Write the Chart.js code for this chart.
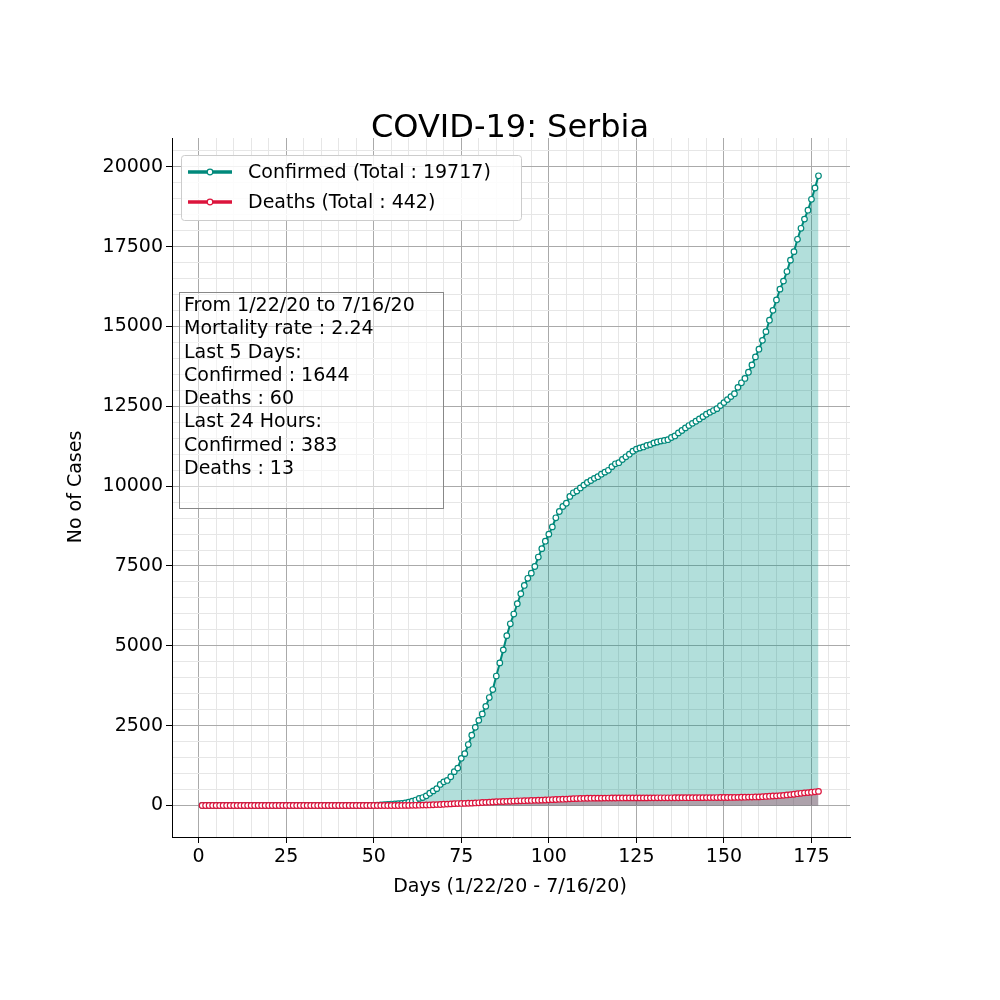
<!DOCTYPE html>
<html><head><meta charset="utf-8">
<script src="https://cdn.jsdelivr.net/npm/chart.js@4"></script>
<style>body{margin:0;background:#fff}#wrap{width:1000px;height:1000px}</style>
</head><body><div id="wrap"><canvas id="c" width="1000" height="1000"></canvas></div>
<script>
// 数据：第 1..177 天的累计确诊与死亡
const days = Array.from({ length: 177 }, (_, i) => i + 1);
const confirmed = [
  0,0,0,0,0,0,0,0,0,0, 0,0,0,0,0,0,0,0,0,0, 0,0,0,0,0,0,0,0,0,0,
  0,0,0,0,0,0,0,0,0,0, 0,0,0,0,0,0,
  1,1,1,5,12,19,24,35,46,48,55,65,83,103,135,171,222,249,303,384,457,528,659,741,785,900,
  1060,1171,1476,1624,1908,2200,2447,2666,2867,3105,3380,3630,4054,4465,4873,5318,5690,5994,
  6318,6630,6890,7114,7276,7483,7779,8042,8275,8497,8724,9009,9205,9362,9464,9677,9791,9848,
  9943,10032,10114,10176,10243,10295,10374,10438,10496,10610,10699,10733,10833,10919,11000,
  11092,11159,11193,11227,11275,11300,11354,11381,11412,11430,11454,11523,11571,11667,11741,
  11823,11896,11965,12031,12102,12175,12251,12310,12367,12426,12522,12616,12709,12803,12894,
  13092,13235,13372,13565,13792,14046,14288,14564,14836,15195,15504,15829,16168,16420,16719,
  17076,17342,17728,18073,18360,18639,18980,19334,19717
];
const deaths = [
  0,0,0,0,0,0,0,0,0,0, 0,0,0,0,0,0,0,0,0,0, 0,0,0,0,0,0,0,0,0,0,
  0,0,0,0,0,0,0,0,0,0, 0,0,0,0,0,0,0,0,0,0, 0,0,0,0,0,
  1,1,2,3,4,5,7,10,13,16,17,23,28,31,39,44,51,58,61,65,66,71,74,80,85,94,99,103,110,117,
  122,125,130,134,139,144,147,151,154,158,161,164,168,173,179,183,188,193,197,201,209,215,
  218,221,224,227,229,230,230,231,232,234,235,235,236,237,238,238,238,238,239,239,239,240,
  240,241,241,242,242,242,243,243,244,244,245,245,245,246,246,247,247,248,249,250,250,251,
  252,254,256,258,260,263,265,268,270,276,283,292,298,303,311,318,330,341,352,370,382,396,
  404,416,429,442
];
const infoLines = [
  'From 1/22/20 to 7/16/20', 'Mortality rate : 2.24', 'Last 5 Days:',
  'Confirmed : 1644', 'Deaths : 60', 'Last 24 Hours:', 'Confirmed : 383', 'Deaths : 13'
];
const TEAL = '#00897b', RED = '#dc143c';
const FONT = '"DejaVu Sans", sans-serif';

const decor = {
  id: 'decor',
  afterDraw(chart) {
    const c = chart.ctx;
    c.save();
    c.fillStyle = '#000';
    c.textAlign = 'center'; c.textBaseline = 'alphabetic';
    c.font = `32px ${FONT}`;
    c.fillText('COVID-19: Serbia', 510, 137);
    c.font = `19px ${FONT}`;
    c.fillText('Days (1/22/20 - 7/16/20)', 510, 892);
    c.save(); c.translate(81, 487); c.rotate(-Math.PI / 2);
    c.fillText('No of Cases', 0, 0); c.restore();

    // 图例
    c.fillStyle = 'rgba(255,255,255,0.85)'; c.strokeStyle = '#ccc'; c.lineWidth = 1;
    c.beginPath(); c.roundRect(181.5, 155.5, 340, 65, 3); c.fill(); c.stroke();
    [[TEAL, 'Confirmed (Total : 19717)', 172], [RED, 'Deaths (Total : 442)', 202]].forEach(([col, t, y]) => {
      c.strokeStyle = col; c.lineWidth = 3.5;
      c.beginPath(); c.moveTo(188, y); c.lineTo(232, y); c.stroke();
      c.fillStyle = '#fff'; c.lineWidth = 1.2;
      c.beginPath(); c.arc(210, y, 2.8, 0, Math.PI * 2); c.fill(); c.stroke();
      c.fillStyle = '#000'; c.textAlign = 'left'; c.textBaseline = 'middle';
      c.fillText(t, 248, y + 1);
    });

    // 文本框
    c.fillStyle = 'rgba(255,255,255,0.5)'; c.strokeStyle = '#888'; c.lineWidth = 1;
    c.fillRect(179.5, 292.5, 264, 216); c.strokeRect(179.5, 292.5, 264, 216);
    c.fillStyle = '#000'; c.textBaseline = 'middle';
    infoLines.forEach((t, i) => c.fillText(t, 184, 306 + i * 23.3));
    c.restore();
  }
};

new Chart(document.getElementById('c'), {
  type: 'line',
  data: {
    labels: days,
    datasets: [
      { data: deaths.map((v, i) => ({ x: days[i], y: v })), borderColor: RED, borderWidth: 2,
        backgroundColor: 'rgba(160,20,60,0.3)', fill: 'origin', pointRadius: 2.8,
        pointBackgroundColor: '#fff', pointBorderColor: RED, pointBorderWidth: 1.2, order: 1 },
      { data: confirmed.map((v, i) => ({ x: days[i], y: v })), borderColor: TEAL, borderWidth: 2,
        backgroundColor: 'rgba(0,150,136,0.3)', fill: 'origin', pointRadius: 2.8,
        pointBackgroundColor: '#fff', pointBorderColor: TEAL, pointBorderWidth: 1.2, order: 2 }
    ]
  },
  options: {
    responsive: false, animation: false,
    layout: { padding: { left: 0, right: 150, top: 138, bottom: 0 } },
    plugins: { legend: { display: false }, tooltip: { enabled: false } },
    scales: {
      x: {
        type: 'linear', min: -7.6, max: 186,
        afterBuildTicks: s => { s.ticks = []; for (let v = 0; v <= 185; v += 5) s.ticks.push({ value: v }); },
        afterFit: s => { s.height = 163; },
        border: { color: '#000' },
        grid: {
          color: ctx => ctx.tick && ctx.tick.value % 25 === 0 ? '#aaa' : '#e6e6e6',
          tickColor: ctx => ctx.tick && ctx.tick.value % 25 === 0 ? '#000' : 'rgba(0,0,0,0)',
          tickLength: 6, lineWidth: 1
        },
        ticks: { autoSkip: false, maxRotation: 0, color: '#000', font: { size: 19, family: FONT },
          callback: v => v % 25 === 0 ? v : '' }
      },
      y: {
        min: -986, max: 20900,
        afterBuildTicks: s => { s.ticks = []; for (let v = 0; v <= 20500; v += 500) s.ticks.push({ value: v }); },
        afterFit: s => { s.width = 172; },
        border: { color: '#000' },
        grid: {
          color: ctx => ctx.tick && ctx.tick.value % 2500 === 0 ? '#aaa' : '#e6e6e6',
          tickColor: ctx => ctx.tick && ctx.tick.value % 2500 === 0 ? '#000' : 'rgba(0,0,0,0)',
          tickLength: 6, lineWidth: 1
        },
        ticks: { autoSkip: false, color: '#000', font: { size: 19, family: FONT },
          callback: v => v % 2500 === 0 ? v : '' }
      }
    }
  },
  plugins: [decor]
});
</script>
</body></html>
